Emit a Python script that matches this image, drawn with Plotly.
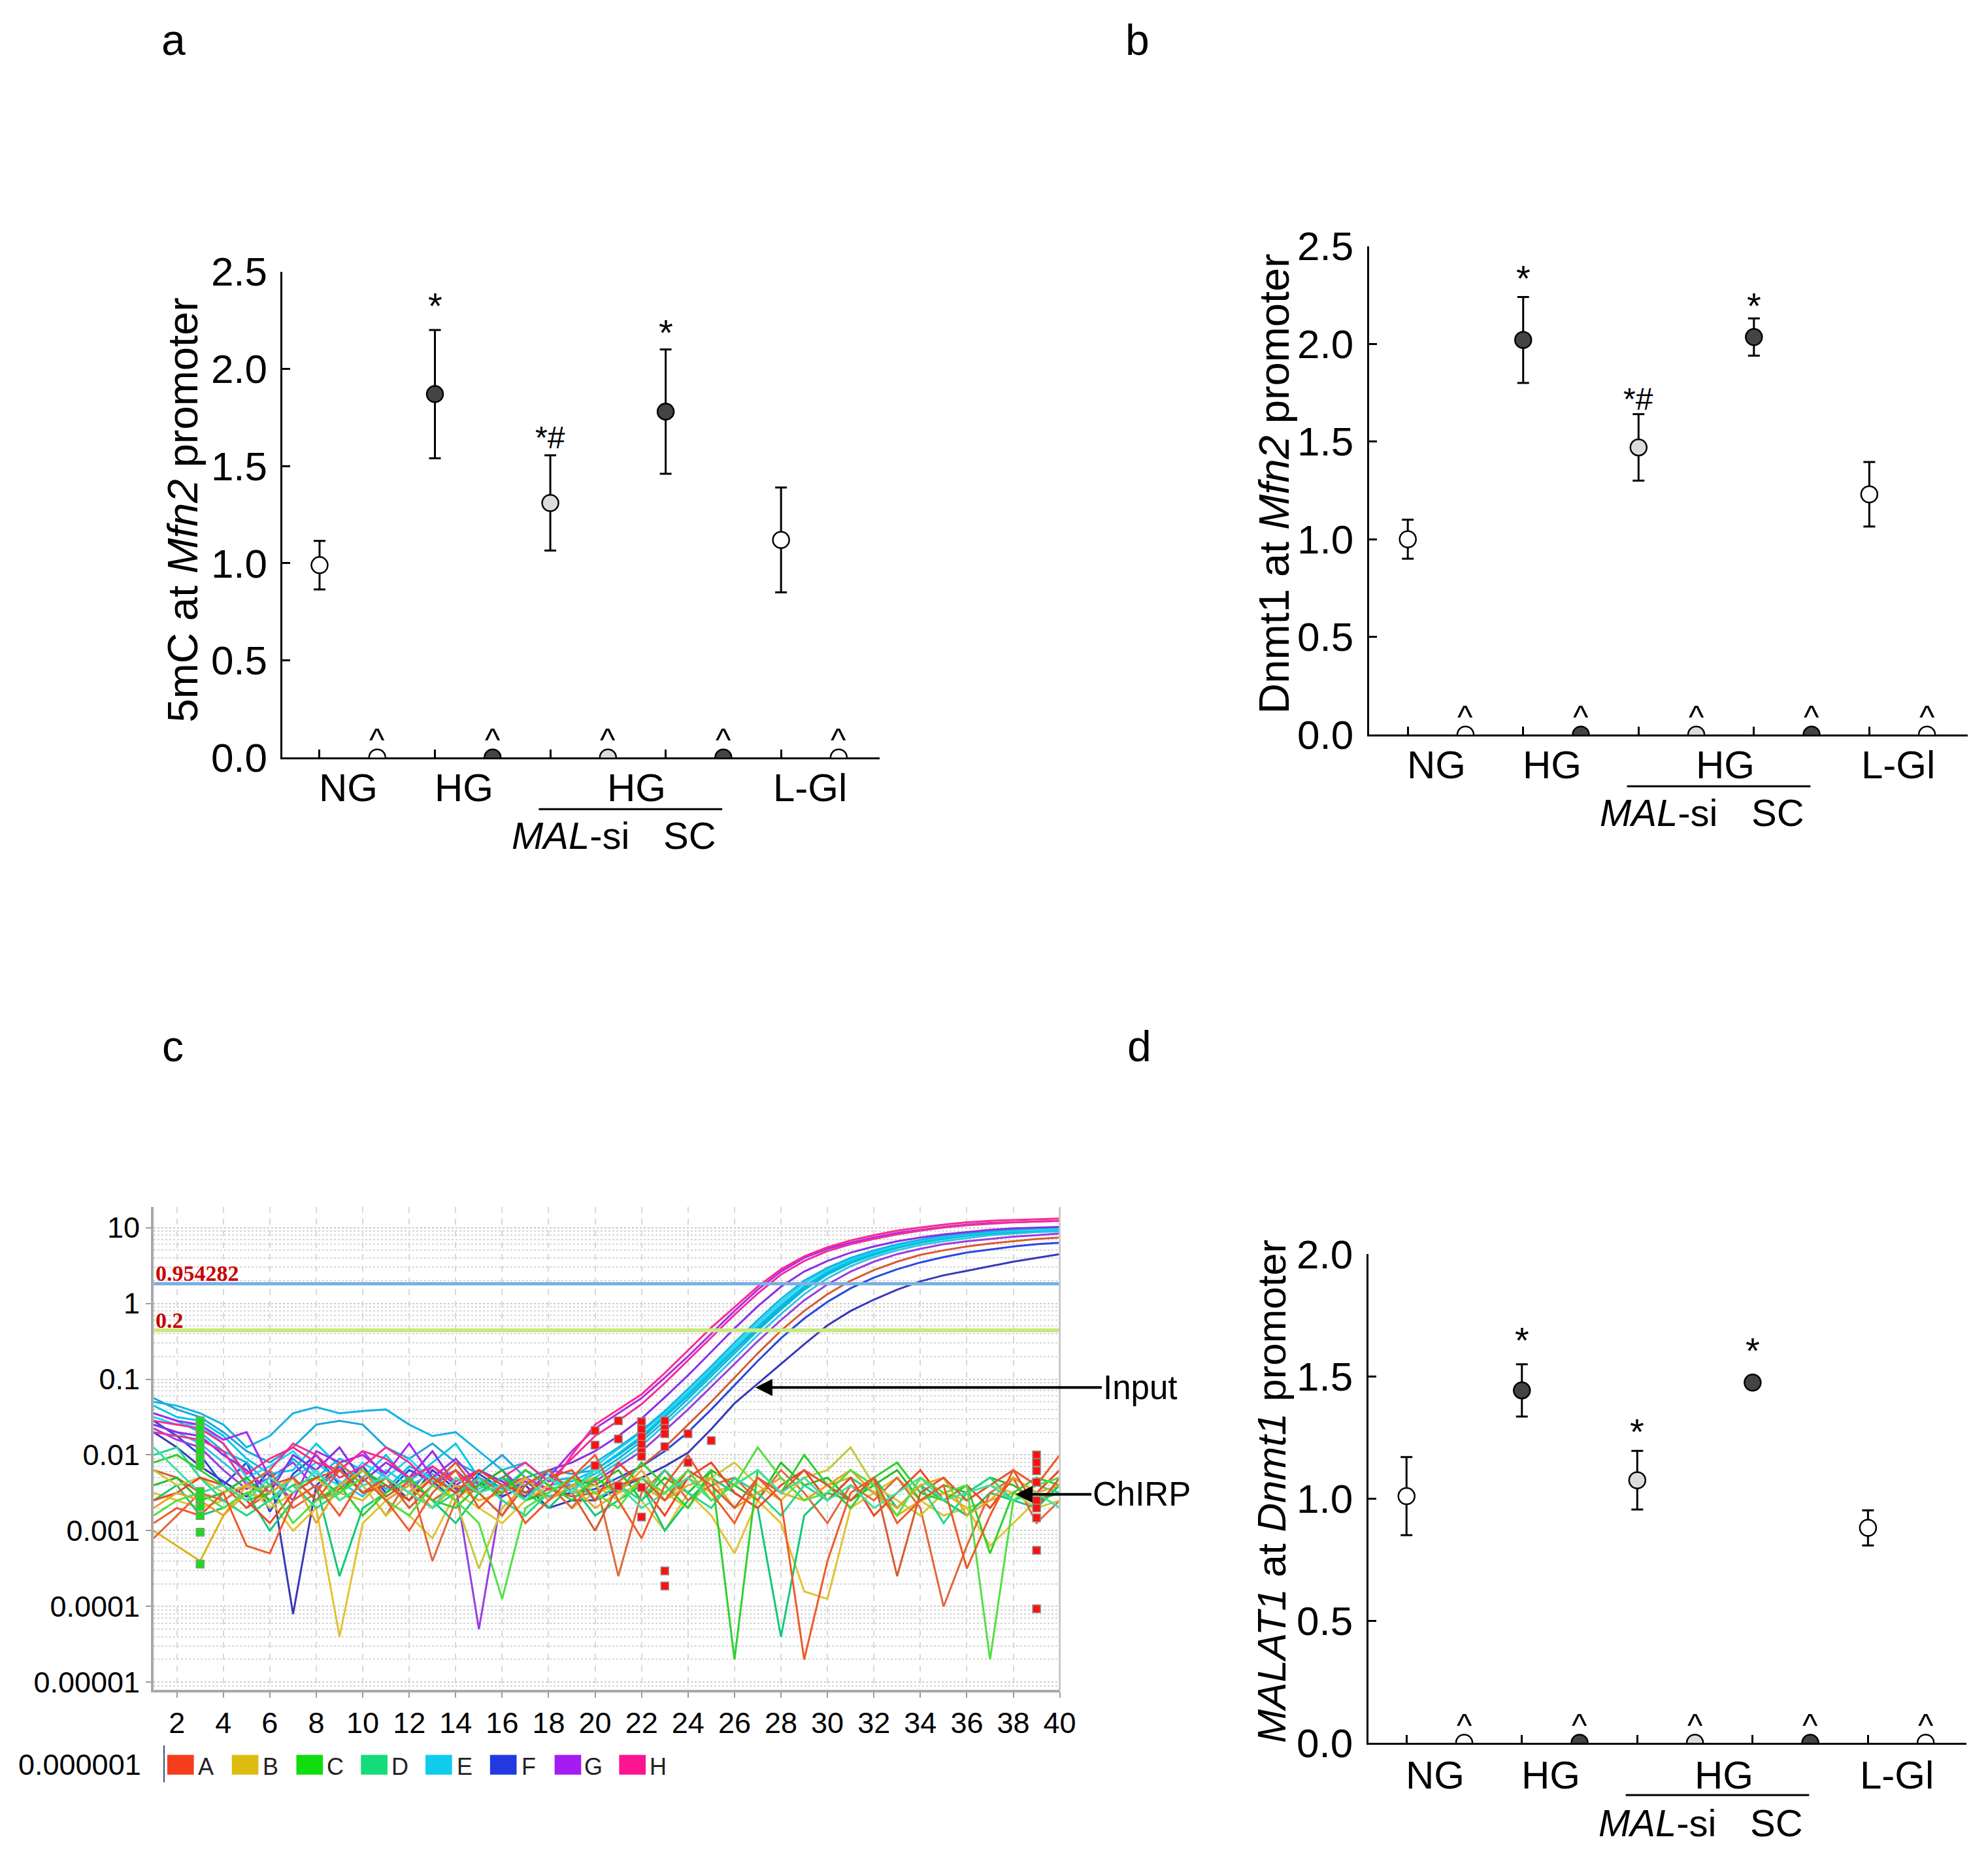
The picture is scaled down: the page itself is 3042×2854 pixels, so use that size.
import plotly.graph_objects as go

W, H = 3042, 2854
SANS = "Liberation Sans, Arial, Helvetica, sans-serif"
NARROW = "Liberation Sans Narrow, Arial Narrow, Liberation Sans, sans-serif"
SERIF = "Liberation Serif, Times New Roman, serif"

# ---------------- panels a, b, d (dot plots) ----------------
SAMPLE_X = [0, 2, 4, 6, 8]      # NG, HG, HG MAL-si, HG SC, L-Gl
CONTROL_X = [1, 3, 5, 7, 9]     # control lanes next to each group
SAMPLE_FILL = ["#ffffff", "#444444", "#dcdcdc", "#444444", "#ffffff"]
GROUP_TEXT = ["NG", "HG", "HG", "L-Gl"]
GROUP_X = [0.5, 2.5, 5.5, 8.5]
SUB_TEXT = ["<i>MAL</i>-si", "SC"]
SUB_X = [4.35, 6.42]
UNDERLINE_X = [3.8, 6.98]

A_MEAN = [0.99, 1.87, 1.31, 1.78, 1.12]
A_SEM = [0.125, 0.33, 0.245, 0.32, 0.27]
A_CTRL = [0.0, 0.0, 0.0, 0.0, 0.0]
A_SIG = ["", "*", "*#", "*", ""]
A_SIG_Y = [None, 2.32, 1.64, 2.18, None]

B_MEAN = [1.0, 2.02, 1.47, 2.035, 1.23]
B_SEM = [0.1, 0.22, 0.17, 0.095, 0.165]
B_CTRL = [0.0, 0.0, 0.0, 0.0, 0.0]
B_SIG = ["", "*", "*#", "*", ""]
B_SIG_Y = [None, 2.33, 1.71, 2.19, None]

D_MEAN = [1.01, 1.443, 1.075, 1.475, 0.88]
D_SEM = [0.16, 0.107, 0.12, 0.01, 0.072]
D_CTRL = [0.0, 0.0, 0.0, 0.0, 0.0]
D_SIG = ["", "*", "*", "*", ""]
D_SIG_Y = [None, 1.645, 1.27, 1.60, None]

# ---------------- panel c (amplification plot, log10 fluorescence) ----------------
CYCLES = list(range(1, 41))

IN_H1 = [-1.55, -1.6, -1.65, -1.85, -2.25, -2.05, -1.9, -2.1, -2.2, -1.95, -2.05, -2.3, -2.15, -2.35, -2.2, -2.4, -2.3, -2.45, -2.0,
         -1.6, -1.4, -1.2, -0.92, -0.62, -0.32, -0.05, 0.22, 0.45, 0.62, 0.74, 0.83, 0.9, 0.96, 1.0, 1.04, 1.07, 1.09, 1.1, 1.11, 1.12]
IN_H2 = [-1.7, -1.75, -1.8, -1.95, -2.4, -2.2, -1.85, -2.0, -2.3, -2.15, -1.9, -2.1, -2.4, -2.2, -2.5, -2.3, -2.1, -2.35, -2.05,
         -1.75, -1.55, -1.33, -1.05, -0.75, -0.45, -0.15, 0.13, 0.38, 0.56, 0.69, 0.78, 0.85, 0.91, 0.96, 1.0, 1.03, 1.05, 1.07, 1.08, 1.09]
IN_G1 = [-1.45, -1.55, -1.6, -1.8, -1.7, -2.3, -2.6, -1.95, -2.1, -2.0, -2.25, -1.85, -2.3, -2.05, -2.4, -2.2, -2.5, -2.3, -1.95,
         -1.65, -1.45, -1.25, -0.98, -0.7, -0.4, -0.1, 0.18, 0.42, 0.6, 0.72, 0.8, 0.87, 0.93, 0.97, 1.01, 1.04, 1.06, 1.07, 1.08, 1.09]
IN_G2 = [-1.6, -1.7, -1.75, -2.0, -2.2, -2.5, -2.0, -2.2, -1.9, -2.35, -2.1, -2.3, -1.95, -2.4, -2.2, -2.35, -2.55, -2.2, -2.1,
         -1.95, -1.75, -1.52, -1.24, -0.95, -0.64, -0.33, -0.04, 0.22, 0.42, 0.56, 0.67, 0.75, 0.82, 0.87, 0.91, 0.94, 0.97, 0.99, 1.0, 1.01]
IN_G3 = [-1.65, -1.8, -1.9, -2.2, -2.45, -2.3, -2.1, -2.45, -2.2, -1.95, -2.3, -2.5, -2.15, -2.4, -4.3, -2.5, -2.35, -2.45, -2.4,
         -2.35, -2.15, -1.95, -1.68, -1.4, -1.1, -0.8, -0.5, -0.22, 0.04, 0.25, 0.42, 0.55, 0.65, 0.72, 0.78, 0.82, 0.85, 0.88, 0.9, 0.92]
IN_E1 = [-1.3, -1.35, -1.45, -1.6, -1.9, -1.75, -1.45, -1.37, -1.45, -1.42, -1.4, -1.6, -1.75, -1.7, -1.95, -2.2, -2.1, -2.35, -2.3,
         -2.1, -1.9, -1.68, -1.42, -1.13, -0.83, -0.52, -0.22, 0.06, 0.3, 0.47, 0.6, 0.7, 0.78, 0.84, 0.89, 0.92, 0.95, 0.97, 0.99, 1.0]
IN_E2 = [-1.35, -1.5, -1.55, -1.75, -2.05, -2.25, -2.2, -1.85, -2.15, -2.3, -2.0, -2.35, -2.1, -1.85, -2.3, -2.45, -2.2, -2.4, -2.35,
         -2.2, -1.98, -1.75, -1.48, -1.2, -0.9, -0.6, -0.3, -0.02, 0.23, 0.42, 0.56, 0.67, 0.75, 0.82, 0.87, 0.91, 0.94, 0.96, 0.98, 0.99]
IN_E3 = [-1.45, -1.55, -1.7, -1.95, -2.1, -2.4, -2.05, -2.3, -2.05, -2.2, -2.45, -2.15, -2.3, -2.5, -2.2, -2.35, -2.55, -2.3, -2.4,
         -2.25, -2.05, -1.82, -1.55, -1.26, -0.96, -0.66, -0.36, -0.08, 0.18, 0.38, 0.53, 0.64, 0.73, 0.8, 0.85, 0.89, 0.92, 0.94, 0.96, 0.97]
IN_E4 = [-1.5, -1.6, -1.6, -1.85, -2.3, -2.15, -1.95, -2.25, -2.4, -2.1, -2.3, -2.05, -2.35, -2.2, -2.45, -2.3, -2.4, -2.25, -2.5,
         -2.15, -1.92, -1.7, -1.45, -1.17, -0.87, -0.56, -0.26, 0.02, 0.27, 0.45, 0.58, 0.68, 0.76, 0.83, 0.88, 0.91, 0.94, 0.96, 0.97, 0.98]
IN_E5 = [-1.6, -1.7, -1.85, -2.1, -2.35, -2.6, -2.3, -2.1, -2.35, -2.55, -2.2, -2.4, -2.25, -2.5, -2.35, -2.45, -2.3, -2.55, -2.45,
         -2.3, -2.1, -1.88, -1.6, -1.32, -1.02, -0.72, -0.42, -0.14, 0.12, 0.33, 0.49, 0.61, 0.7, 0.77, 0.82, 0.86, 0.9, 0.92, 0.94, 0.95]
IN_E6 = [-1.25, -1.4, -1.5, -1.7, -1.95, -2.1, -1.9, -1.6, -1.55, -1.6, -1.9, -2.05, -1.85, -2.1, -2.25, -2.0, -2.3, -2.2, -2.25,
         -2.2, -2.0, -1.78, -1.5, -1.22, -0.92, -0.62, -0.33, -0.05, 0.2, 0.4, 0.55, 0.66, 0.74, 0.81, 0.86, 0.9, 0.93, 0.95, 0.97, 0.98]
IN_F1 = [-1.55, -1.75, -2.0, -2.4, -2.1, -2.75, -2.25, -2.0, -2.4, -2.15, -2.5, -2.2, -2.35, -2.6, -2.25, -2.45, -2.35, -2.55, -2.5,
         -2.45, -2.3, -2.15, -1.95, -1.7, -1.4, -1.08, -0.76, -0.46, -0.2, 0.02, 0.2, 0.34, 0.45, 0.54, 0.61, 0.67, 0.71, 0.75, 0.78, 0.8]
IN_F2 = [-1.7, -1.9, -2.15, -2.35, -2.55, -2.2, -4.1, -2.4, -2.15, -2.5, -2.3, -2.6, -2.2, -2.45, -2.35, -2.55, -2.4, -2.7, -2.6,
         -2.6, -2.45, -2.3, -2.15, -1.97, -1.66, -1.32, -1.06, -0.8, -0.54, -0.29, -0.1, 0.05, 0.18, 0.29, 0.37, 0.43, 0.49, 0.55, 0.6, 0.65]
IN_A1 = [-2.2, -2.3, -2.5, -2.4, -2.7, -2.5, -2.3, -2.6, -2.45, -2.2, -2.55, -2.35, -2.6, -2.4, -2.5, -2.3, -2.6, -2.45, -2.55,
         -2.5, -2.35, -2.15, -1.9, -1.6, -1.3, -0.98, -0.66, -0.36, -0.1, 0.12, 0.3, 0.44, 0.55, 0.64, 0.7, 0.75, 0.79, 0.82, 0.85, 0.87]

CH_A1 = [-2.6, -2.5, -2.3, -2.4, -2.6, -2.9, -2.5, -2.3, -2.2, -2.5, -2.4, -2.6, -2.3, -2.5, -2.2, -2.4, -2.5, -2.3, -2.2, -2.6,
         -2.1, -2.4, -2.8, -2.3, -2.1, -2.5, -2.7, -2.4, -2.2, -2.6, -2.3, -2.8, -2.5, -2.2, -2.6, -2.4, -2.7, -2.3, -2.5, -2.2]
CH_A2 = [-2.9, -2.7, -2.8, -2.5, -3.2, -3.3, -2.6, -2.4, -2.8, -2.3, -2.6, -3.0, -2.5, -2.2, -2.7, -2.4, -2.9, -2.6, -2.3, -2.0,
         -2.6, -3.1, -2.4, -2.0, -2.5, -2.9, -2.3, -2.6, -4.7, -3.4, -2.5, -2.3, -2.9, -2.6, -2.4, -3.5, -2.8, -2.2, -2.4, -2.0]
CH_A3 = [-3.1, -2.8, -2.5, -2.6, -2.4, -2.2, -2.7, -2.5, -2.1, -2.4, -2.8, -2.3, -3.4, -2.6, -2.3, -2.5, -2.2, -2.4, -2.7, -2.3,
         -3.6, -2.5, -2.2, -2.6, -2.4, -2.3, -2.6, -2.2, -2.5, -2.9, -2.4, -2.6, -2.3, -2.7, -4.0, -3.2, -2.5, -2.3, -2.9, -2.6]
CH_A4 = [None, None, None, None, -2.7, -2.4, -2.3, -2.6, -2.2, -2.5, -2.3, -2.7, -2.4, -2.1, -2.5, -2.8, -2.4, -2.2, -2.5, -3.0,
         -2.4, -2.3, -2.6, -2.2, -2.4, -2.7, -2.3, -2.5, -2.2, -2.4, -2.6, -2.3, -3.6, -2.5, -2.3, -2.6, -2.4, -2.2, -2.7, -2.3]
CH_B1 = [-3.0, -3.2, -3.4, -2.8, -2.5, -2.6, -2.4, -2.7, -2.5, -2.6, -2.3, -2.5, -2.7, -2.4, -2.6, -2.5, -2.3, -2.6, -2.4, -2.3,
         -2.5, -2.4, -2.6, -2.3, -2.5, -2.4, -2.2, -2.5, -2.6, -2.4, -2.3, -2.5, -2.8, -2.6, -2.5, -2.7, -2.6, -2.5, -2.6, -2.5]
CH_B2 = [-2.5, -2.6, -2.7, -2.6, -2.8, -2.6, -3.0, -2.7, -4.4, -2.9, -2.6, -2.8, -3.1, -2.5, -2.7, -2.9, -2.6, -2.4, -2.7, -2.5,
         -2.4, -2.6, -3.0, -2.5, -2.8, -3.3, -2.6, -2.9, -3.8, -3.9, -2.7, -2.5, -2.3, -2.6, -2.8, -2.7, -3.2, -2.9, -2.6, -2.4]
CH_B3 = [-2.2, -2.4, -2.3, -2.5, -2.4, -2.7, -2.5, -2.3, -2.6, -2.4, -2.8, -2.5, -2.3, -2.6, -3.5, -2.7, -2.4, -2.2, -2.5, -2.4,
         -2.6, -2.3, -2.5, -2.7, -2.3, -2.1, -2.4, -2.6, -2.3, -2.2, -1.9, -2.4, -2.6, -2.8, -2.5, -2.6, -2.4, -2.5, -2.7, -2.6]
CH_B4 = [-2.7, -2.5, -2.6, -2.8, -2.4, -2.5, -2.3, -2.9, -2.4, -2.2, -2.6, -2.4, -2.7, -2.3, -2.5, -2.8, -2.3, -2.6, -2.4, -2.7,
         -2.5, -2.2, -2.6, -2.4, -2.3, -2.7, -2.5, -2.3, -2.6, -2.4, -2.2, -2.5, -2.7, -2.4, -2.3, -2.8, -2.6, -2.3, -2.5, -2.4]
CH_C1 = [-2.1, -2.0, -2.2, -2.4, -2.6, -2.5, -2.3, -2.6, -2.4, -2.8, -2.5, -2.3, -2.6, -2.7, -2.4, -2.5, -2.2, -2.4, -2.6, -2.3,
         -2.5, -2.1, -2.4, -2.7, -2.2, -4.7, -2.2, -2.5, -2.0, -2.4, -2.7, -2.3, -2.1, -2.5, -2.6, -2.4, -3.3, -2.5, -2.3, -2.4]
CH_C2 = [-2.8, -2.6, -2.5, -2.7, -2.5, -2.4, -2.9, -2.6, -2.5, -2.3, -2.6, -2.8, -2.4, -2.6, -2.9, -3.9, -2.7, -2.5, -2.3, -2.5,
         -2.7, -2.3, -2.5, -2.2, -2.6, -2.4, -1.9, -2.3, -2.6, -2.5, -2.2, -2.4, -2.8, -2.3, -2.5, -2.4, -4.7, -2.6, -2.4, -2.3]
CH_C3 = [-2.4, -2.3, -2.6, -2.5, -2.3, -2.6, -2.4, -2.3, -2.5, -2.2, -2.4, -2.6, -2.3, -2.5, -2.4, -2.2, -2.6, -2.5, -2.3, -2.4,
         -2.2, -2.6, -2.3, -2.5, -2.2, -2.4, -2.6, -2.1, -2.4, -2.3, -2.6, -2.4, -2.2, -2.6, -2.4, -2.5, -2.3, -2.4, -2.6, -2.5]
CH_D1 = [-2.0, -1.9, -2.3, -2.6, -2.8, -2.6, -2.4, -2.7, -2.5, -2.3, -2.6, -2.4, -2.7, -2.5, -2.3, -2.6, -2.8, -2.5, -2.3, -2.6,
         -2.4, -2.6, -2.2, -2.5, -2.7, -2.3, -2.5, -2.8, -2.4, -2.6, -2.3, -2.5, -2.7, -2.4, -2.9, -2.5, -2.3, -2.6, -2.4, -2.5]
CH_D2 = [-2.6, -2.4, -2.8, -2.7, -2.5, -3.0, -2.6, -2.4, -3.6, -2.7, -2.5, -2.3, -2.6, -2.9, -2.5, -2.3, -2.5, -2.7, -2.4, -2.8,
         -2.6, -2.4, -3.0, -2.6, -2.3, -2.5, -2.7, -4.4, -2.8, -2.5, -2.6, -2.3, -2.7, -2.4, -2.6, -2.8, -2.5, -2.6, -2.7, -2.4]
CH_D3 = [-1.9, -2.2, -2.5, -2.4, -2.6, -2.3, -2.5, -2.2, -2.6, -2.4, -2.3, -2.5, -2.7, -2.3, -2.5, -2.4, -2.6, -2.3, -2.5, -2.2,
         -2.4, -2.7, -2.5, -2.3, -2.6, -2.4, -2.2, -2.5, -2.3, -2.6, -2.4, -2.7, -2.5, -2.3, -2.6, -2.5, -2.4, -2.6, -2.5, -2.7]

# Ct markers (cycle, log10 fluorescence)
CT_GREEN_X = [3, 3, 3, 3, 3, 3, 3, 3, 3, 3, 3, 3, 3]
CT_GREEN_LOG = [-1.55, -1.65, -1.75, -1.85, -1.95, -2.05, -2.14, -2.48, -2.58, -2.68, -2.8, -3.02, -3.44]
CT_RED_X = [20, 20, 20, 21, 21, 21, 22, 22, 22, 22, 22, 22, 22, 22, 23, 23, 23, 23, 23, 23, 24, 24, 25,
            39, 39, 39, 39, 39, 39, 39, 39, 39]
CT_RED_LOG = [-1.68, -1.87, -2.14, -1.55, -1.79, -2.41, -1.56, -1.66, -1.76, -1.86, -1.96, -2.02, -2.43, -2.82,
              -1.55, -1.65, -1.72, -1.89, -3.53, -3.73, -1.72, -2.1, -1.81,
              -2.0, -2.1, -2.21, -2.36, -2.6, -2.7, -2.83, -3.26, -4.03]

THRESHOLD_LOG = [0.26, -0.355]
THRESHOLD_TEXT = ["0.954282", "0.2"]
THRESHOLD_COLOR = ["#7ab0e4", "#c8e880"]

WELL_NAMES = ["A", "B", "C", "D", "E", "F", "G", "H"]
WELL_COLORS = ["#f53c1c", "#dcbc10", "#10dc10", "#14dc78", "#10ccec", "#2438e0", "#a61cf0", "#fc1490"]

INPUT_LINES = [
    (IN_E6, "#1aa6d8"), (IN_F2, "#3838b8"), (IN_F1, "#2848e0"), (IN_A1, "#d85a34"),
    (IN_G3, "#9a3ee0"), (IN_E5, "#30c4e4"), (IN_E3, "#08bcdc"), (IN_E2, "#00c8e8"),
    (IN_E4, "#20d6f2"), (IN_E1, "#14b4e4"), (IN_G2, "#8a2ee6"), (IN_G1, "#a82cf0"),
    (IN_H2, "#f0309a"), (IN_H1, "#ff2a8a"),
]
CHIRP_LINES = [
    (CH_B1, "#dcb418"), (CH_B2, "#e2c234"), (CH_D2, "#12c878"), (CH_C3, "#22c022"),
    (CH_A3, "#e0683a"), (CH_B3, "#c8c83a"), (CH_D1, "#20d890"), (CH_A1, "#ee4422"),
    (CH_C1, "#2ed02e"), (CH_B4, "#eaa22a"), (CH_A4, "#d85a30"), (CH_D3, "#3ee0a6"),
    (CH_C2, "#52e042"), (CH_A2, "#f05a28"),
]


def py(px):
    return 1 - px / H


def px_x(px):
    return px / W


def note(**kw):
    kw.setdefault("showarrow", False)
    kw.setdefault("xanchor", "center")
    kw.setdefault("yanchor", "middle")
    return kw


fig = go.Figure()
annotations = []
shapes = []

# ---- dot panels ----
PANELS = [
    dict(xa="x", ya="y", mean=A_MEAN, sem=A_SEM, ctrl=A_CTRL, sig=A_SIG, sig_y=A_SIG_Y,
         label_y=1192, under_y=1226, sub_y=1267),
    dict(xa="x2", ya="y2", mean=B_MEAN, sem=B_SEM, ctrl=B_CTRL, sig=B_SIG, sig_y=B_SIG_Y,
         label_y=1156, under_y=1190, sub_y=1231),
    dict(xa="x4", ya="y4", mean=D_MEAN, sem=D_SEM, ctrl=D_CTRL, sig=D_SIG, sig_y=D_SIG_Y,
         label_y=2741, under_y=2772, sub_y=2816),
]

for p in PANELS:
    fig.add_trace(go.Scatter(
        x=SAMPLE_X, y=p["mean"], mode="markers", xaxis=p["xa"], yaxis=p["ya"],
        error_y=dict(type="data", array=p["sem"], color="black", thickness=3, width=9),
        marker=dict(size=25, color=SAMPLE_FILL, line=dict(color="black", width=2.5)),
        cliponaxis=False, showlegend=False, hoverinfo="skip"))
    fig.add_trace(go.Scatter(
        x=CONTROL_X, y=p["ctrl"], mode="markers", xaxis=p["xa"], yaxis=p["ya"],
        marker=dict(size=25, color=SAMPLE_FILL, line=dict(color="black", width=2.5)),
        cliponaxis=True, showlegend=False, hoverinfo="skip"))
    for cx in CONTROL_X:
        annotations.append(note(x=cx, y=0, xref=p["xa"], yref=p["ya"], text="^",
                                yshift=27, font=dict(size=50)))
    for sx, s, sy in zip(SAMPLE_X, p["sig"], p["sig_y"]):
        if s:
            annotations.append(note(x=sx, y=sy, xref=p["xa"], yref=p["ya"], text=s,
                                    yshift=2, font=dict(size=56 if s == "*" else 48)))
    for gx, g in zip(GROUP_X, GROUP_TEXT):
        annotations.append(note(x=gx, y=py(p["label_y"]), xref=p["xa"], yref="paper", text=g,
                                font=dict(size=60)))
    for sx, s in zip(SUB_X, SUB_TEXT):
        annotations.append(note(x=sx, y=py(p["sub_y"]), xref=p["xa"], yref="paper", text=s,
                                font=dict(size=58)))
    shapes.append(dict(type="line", xref=p["xa"], yref="paper", x0=UNDERLINE_X[0], x1=UNDERLINE_X[1],
                       y0=py(p["under_y"]), y1=py(p["under_y"]), line=dict(color="black", width=3)))

# ---- panel c ----
for vals, color in INPUT_LINES + CHIRP_LINES:
    assert len(vals) == 40
    fig.add_trace(go.Scatter(
        x=CYCLES, y=[None if v is None else 10 ** v for v in vals], mode="lines",
        line=dict(color=color, width=3), xaxis="x3", yaxis="y3",
        showlegend=False, hoverinfo="skip", connectgaps=False))

for lvl, color, w in zip(THRESHOLD_LOG, THRESHOLD_COLOR, [5, 6]):
    fig.add_trace(go.Scatter(x=[1, 40], y=[10 ** lvl, 10 ** lvl], mode="lines",
                             line=dict(color=color, width=w), xaxis="x3", yaxis="y3",
                             showlegend=False, hoverinfo="skip"))
for lvl, txt in zip(THRESHOLD_LOG, THRESHOLD_TEXT):
    annotations.append(note(x=1, y=lvl, xref="x3", yref="y3", text="<b>%s</b>" % txt,
                            xanchor="left", yanchor="bottom", xshift=1, yshift=-5,
                            font=dict(family=SERIF, size=34, color="#c80000")))

fig.add_trace(go.Scatter(x=CT_GREEN_X, y=[10 ** v for v in CT_GREEN_LOG], mode="markers",
                         marker=dict(symbol="square", size=12, color="#18e018", line=dict(color="#909090", width=1.5)),
                         xaxis="x3", yaxis="y3", showlegend=False, hoverinfo="skip"))
fig.add_trace(go.Scatter(x=CT_RED_X, y=[10 ** v for v in CT_RED_LOG], mode="markers",
                         marker=dict(symbol="square", size=12, color="#ff1010", line=dict(color="#909090", width=1.5)),
                         xaxis="x3", yaxis="y3", showlegend=False, hoverinfo="skip"))

annotations.append(note(x=26.9, y=-1.11, xref="x3", yref="y3", text="Input", showarrow=True,
                        arrowhead=2, arrowsize=1.3, arrowwidth=4, arrowcolor="black",
                        ax=530, ay=0, xanchor="left", font=dict(size=51)))
annotations.append(note(x=38.1, y=-2.52, xref="x3", yref="y3", text="ChIRP", showarrow=True,
                        arrowhead=2, arrowsize=1.3, arrowwidth=4, arrowcolor="black",
                        ax=116, ay=0, xanchor="left", font=dict(size=51)))

# right border of the amplification plot
shapes.append(dict(type="line", xref="x3 domain", yref="y3 domain", x0=1, x1=1, y0=0, y1=1,
                   line=dict(color="#c8c8c8", width=3)))

# well legend row
annotations.append(note(x=px_x(212), y=py(2724), xref="paper", yref="paper", text="0.000001",
                        xanchor="right", font=dict(size=45)))
shapes.append(dict(type="line", xref="paper", yref="paper", x0=px_x(245), x1=px_x(245),
                   y0=py(2752), y1=py(2694), line=dict(color="#30507a", width=2)))
for k, (name, color) in enumerate(zip(WELL_NAMES, WELL_COLORS)):
    x0 = 250 + 99.6 * k
    shapes.append(dict(type="rect", xref="paper", yref="paper", x0=px_x(x0), x1=px_x(x0 + 41),
                       y0=py(2740), y1=py(2709), fillcolor=color, line=dict(width=0)))
    annotations.append(note(x=px_x(x0 + 60), y=py(2727), xref="paper", yref="paper", text=name,
                            font=dict(family=NARROW, size=36, color="#222222")))

# panel letters and y titles
for letter, lx, ly in [("a", 260, 19), ("b", 1747, 19), ("c", 259, 1598), ("d", 1750, 1598)]:
    annotations.append(note(x=px_x(lx), y=py(ly), xref="paper", yref="paper", text=letter,
                            font=dict(size=66)))
for title, tx, ty, fs in [("5mC at <i>Mfn2</i> promoter", 274, 757, 65),
                          ("Dnmt1 at <i>Mfn2</i> promoter", 1958, 716, 65),
                          ("<i>MALAT1</i> at <i>Dnmt1</i> promoter", 1954, 2295, 62)]:
    annotations.append(note(x=px_x(tx), y=py(ty), xref="paper", yref="paper", text=title,
                            textangle=-90, font=dict(size=fs)))


def dot_x(left, right, lo, anchor):
    return dict(domain=[px_x(left), px_x(right)], range=[lo, 9.708], anchor=anchor,
                showline=True, linecolor="black", linewidth=3, ticks="inside", ticklen=12,
                tickwidth=3, tickcolor="black", tickvals=list(range(10)), showticklabels=False,
                showgrid=False, zeroline=False, layer="below traces")


def dot_y(bottom, top, vmax, anchor):
    return dict(domain=[py(bottom), py(top)], range=[0, vmax], anchor=anchor,
                showline=True, linecolor="black", linewidth=3, ticks="inside", ticklen=12,
                tickwidth=3, tickcolor="black", dtick=0.5, tickformat=".1f",
                tickfont=dict(size=62, color="black"), ticklabelstandoff=8,
                showgrid=False, zeroline=False)


fig.update_layout(
    width=W, height=H, margin=dict(l=0, r=0, t=0, b=0),
    paper_bgcolor="white", plot_bgcolor="white", showlegend=False,
    font=dict(family=SANS, color="black"),
    xaxis=dot_x(428, 1349, -0.64, "y"),
    yaxis=dot_y(1145, 383, 2.5, "x"),
    xaxis2=dot_x(2104, 3028, -0.674, "y2"),
    yaxis2=dot_y(1109, 343, 2.5, "x2"),
    xaxis4=dot_x(2103, 3026, -0.663, "y4"),
    yaxis4=dot_y(2690, 1924, 2.0, "x4"),
    xaxis3=dict(domain=[px_x(229), px_x(1627)], range=[1, 40], anchor="y3",
                tick0=2, dtick=2, ticks="outside", ticklen=8, tickwidth=2, tickcolor="#9a9a9a",
                showline=True, linecolor="#a8a8a8", linewidth=4,
                showgrid=True, gridcolor="#d8d8d8", griddash="dash", gridwidth=2,
                zeroline=False, tickfont=dict(size=45, color="black")),
    yaxis3=dict(type="log", domain=[py(2607), py(1850)], range=[-5.10, 1.27], anchor="x3",
                tickvals=[1e-5, 1e-4, 1e-3, 1e-2, 1e-1, 1, 10],
                ticktext=["0.00001", "0.0001", "0.001", "0.01", "0.1", "1", "10"],
                ticks="outside", ticklen=8, tickwidth=2, tickcolor="#9a9a9a",
                showline=True, linecolor="#a8a8a8", linewidth=4,
                showgrid=True, gridcolor="#cccccc", griddash="dot", gridwidth=2,
                minor=dict(dtick="D1", showgrid=True, gridcolor="#d6d6d6", griddash="dot", gridwidth=1.5),
                zeroline=False, tickfont=dict(size=45, color="black")),
    annotations=annotations,
    shapes=shapes,
)

fig.write_html("out.html")
